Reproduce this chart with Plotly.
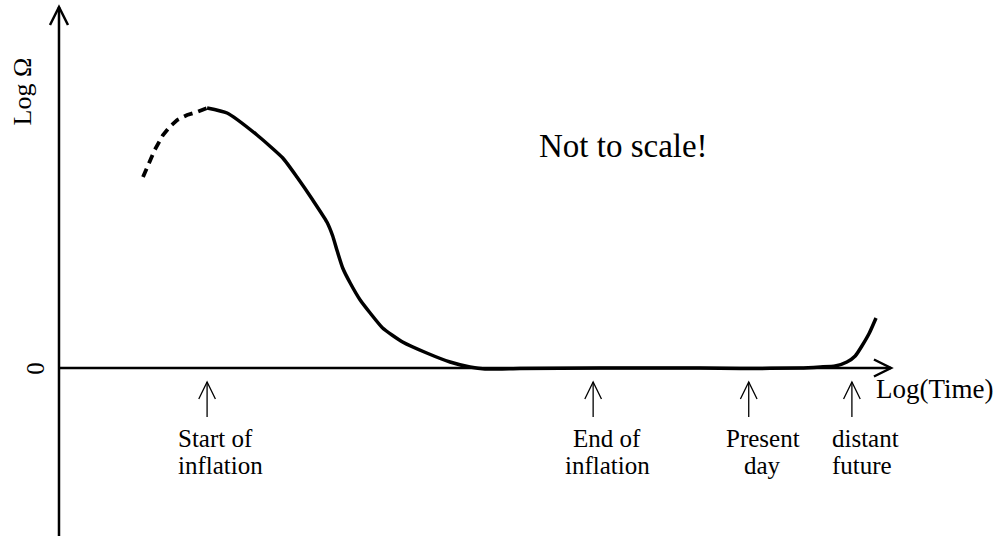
import plotly.graph_objects as go

# ---- data (arbitrary "log time" / "log Omega" units) ----
dash_x = [1.01, 1.08, 1.15, 1.25, 1.33, 1.42, 1.54, 1.66, 1.78]
dash_y = [1.91, 2.05, 2.18, 2.33, 2.41, 2.48, 2.53, 2.56, 2.60]

solid_x = [1.78, 2.02, 2.38, 2.69, 2.86, 3.05, 3.22, 3.29, 3.34, 3.41, 3.50, 3.62,
           3.74, 3.89, 4.13, 4.42, 4.70, 4.94, 5.12, 5.54, 6.50, 7.70, 8.19, 8.91,
           9.15, 9.33, 9.47, 9.57, 9.65, 9.74, 9.82]
solid_y = [2.60, 2.55, 2.33, 2.10, 1.91, 1.68, 1.46, 1.32, 1.18, 1.00, 0.85, 0.68,
           0.55, 0.40, 0.26, 0.15, 0.06, 0.01, -0.01, -0.005, 0.0, 0.0, -0.005, 0.0,
           0.01, 0.02, 0.06, 0.12, 0.22, 0.35, 0.50]

event_x = [1.78, 6.42, 8.29, 9.53]
event_line1 = ["Start of", "End of", "Present", "distant"]
event_line2 = ["inflation", "inflation", "day", "future"]
event_text_x = [1.41, 6.59, 8.46, 9.27]
event_align = ["left", "center", "center", "left"]

X_MIN, X_MAX = -0.709, 11.31
Y_MIN, Y_MAX = -1.68, 3.68
X_TIP, Y_TIP = 10.0, 3.61

fig = go.Figure()
fig.add_trace(go.Scatter(x=dash_x, y=dash_y, mode="lines",
                         line=dict(color="black", width=3.8, dash="9px,6px"),
                         hoverinfo="skip", showlegend=False))
fig.add_trace(go.Scatter(x=solid_x, y=solid_y, mode="lines",
                         line=dict(color="black", width=3.5, shape="spline", smoothing=0.5),
                         hoverinfo="skip", showlegend=False))

shapes = []
ax_line = dict(color="black", width=2.5)
# y axis with open arrowhead
shapes.append(dict(type="line", xref="x", yref="y", x0=0, y0=Y_MIN, x1=0, y1=Y_TIP, line=ax_line))
shapes.append(dict(type="path", xref="x", yref="y",
                   path=f"M {-0.108} {Y_TIP-0.18} L 0 {Y_TIP} L {0.108} {Y_TIP-0.18}", line=ax_line))
# x axis with open arrowhead
shapes.append(dict(type="line", xref="x", yref="y", x0=0, y0=0, x1=X_TIP, y1=0, line=ax_line))
shapes.append(dict(type="path", xref="x", yref="y",
                   path=f"M {X_TIP-0.205} {0.085} L {X_TIP} 0 L {X_TIP-0.205} {-0.085}", line=ax_line))

# small event arrows
thin = dict(color="black", width=1.3)
for ex in event_x:
    shapes.append(dict(type="line", xref="x", yref="y", x0=ex, y0=-0.49, x1=ex, y1=-0.14, line=thin))
    shapes.append(dict(type="path", xref="x", yref="y",
                       path=f"M {ex-0.1} -0.31 L {ex} -0.14 L {ex+0.1} -0.31", line=thin))

ann = []
font = "Liberation Serif, Times New Roman, serif"
for tx, l1, l2, al in zip(event_text_x, event_line1, event_line2, event_align):
    xa = "left" if al == "left" else "center"
    ann.append(dict(x=tx, y=-0.70, text=l1, showarrow=False, xanchor=xa, yanchor="middle",
                    font=dict(family=font, size=25, color="black")))
    ann.append(dict(x=tx, y=-0.97, text=l2, showarrow=False, xanchor=xa, yanchor="middle",
                    font=dict(family=font, size=25, color="black")))

ann.append(dict(x=9.80, y=-0.21, text="Log(Time)", showarrow=False, xanchor="left", yanchor="middle",
                font=dict(family=font, size=27, color="black")))
ann.append(dict(x=6.78, y=2.22, text="Not to scale!", showarrow=False, xanchor="center", yanchor="middle",
                font=dict(family=font, size=33, color="black")))
ann.append(dict(x=-0.44, y=2.77, text="Log Ω", showarrow=False, textangle=-90,
                xanchor="center", yanchor="middle",
                font=dict(family=font, size=26, color="black")))
ann.append(dict(x=-0.29, y=0, text="0", showarrow=False, textangle=-90,
                xanchor="center", yanchor="middle",
                font=dict(family=font, size=25, color="black")))

fig.update_layout(
    width=1000, height=536,
    margin=dict(l=0, r=0, t=0, b=0),
    paper_bgcolor="white", plot_bgcolor="white",
    xaxis=dict(range=[X_MIN, X_MAX], visible=False, fixedrange=True),
    yaxis=dict(range=[Y_MIN, Y_MAX], visible=False, fixedrange=True),
    shapes=shapes, annotations=ann, showlegend=False,
)

fig.write_html("out.html", config={"displayModeBar": False},
               post_script="document.body.style.margin='0';document.body.style.overflow='hidden';")
